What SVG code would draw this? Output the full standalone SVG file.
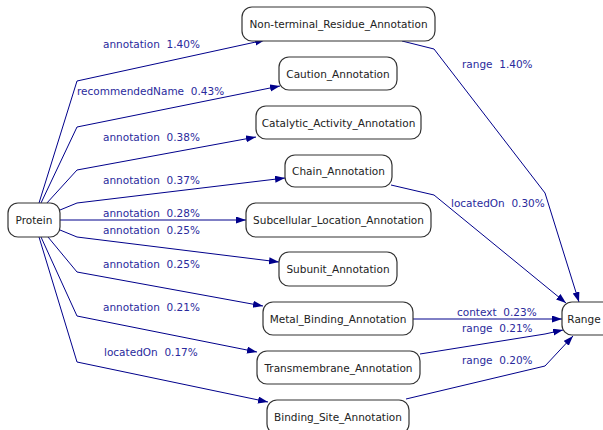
<svg xmlns="http://www.w3.org/2000/svg" width="603" height="430" viewBox="0 0 603 430">
<style>
.node rect{fill:#fff;stroke:#333;stroke-width:1.2}
.node text{font-family:"DejaVu Sans",sans-serif;font-size:10.5px;fill:#222;text-anchor:middle;dominant-baseline:central}
.edge{fill:none;stroke:#00008b;stroke-width:1;marker-end:url(#arr)}
.lbl{font-family:"DejaVu Sans",sans-serif;font-size:10.5px;fill:#2a2a9c;white-space:pre}
</style>
<defs>
<marker id="arr" markerUnits="userSpaceOnUse" markerWidth="11" markerHeight="8" refX="10" refY="3.5" orient="auto">
<path d="M0,0 L10,3.5 L0,7 z" fill="#00008b"/>
</marker>
</defs>
<rect width="603" height="430" fill="#fff"/>
<g id="connectors">
<path class="edge" d="M39,203 L77,81 L265,40"/>
<path class="edge" d="M41,203 L77,127 L280,86"/>
<path class="edge" d="M46,204 L77,170 L256,137"/>
<path class="edge" d="M60,210 L77,203 L285,178"/>
<path class="edge" d="M60,220 L246,220"/>
<path class="edge" d="M60,230 L77,237 L279,262"/>
<path class="edge" d="M48,237 L77,272 L263,306"/>
<path class="edge" d="M41,237 L77,316 L257,352"/>
<path class="edge" d="M39,237 L77,362 L268,402"/>
<path class="edge" d="M402,41 L434,49 L545,193 L579,302"/>
<path class="edge" d="M391,185 L434,195 L566,303"/>
<path class="edge" d="M413,319 L562,319"/>
<path class="edge" d="M420,354 L545,334 L563,330"/>
<path class="edge" d="M406,399 L545,366 L573,336"/>
<text class="lbl" x="103" y="48">annotation  1.40%</text>
<text class="lbl" x="77" y="95">recommendedName  0.43%</text>
<text class="lbl" x="103" y="141">annotation  0.38%</text>
<text class="lbl" x="103" y="184">annotation  0.37%</text>
<text class="lbl" x="103" y="217">annotation  0.28%</text>
<text class="lbl" x="103" y="234">annotation  0.25%</text>
<text class="lbl" x="103" y="268">annotation  0.25%</text>
<text class="lbl" x="103" y="311">annotation  0.21%</text>
<text class="lbl" x="104" y="356">locatedOn  0.17%</text>
<text class="lbl" x="462" y="68">range  1.40%</text>
<text class="lbl" x="451" y="207">locatedOn  0.30%</text>
<text class="lbl" x="457" y="316">context  0.23%</text>
<text class="lbl" x="462" y="332">range  0.21%</text>
<text class="lbl" x="462" y="364">range  0.20%</text>
</g>
<g id="protein" class="node"><rect x="8" y="203" width="52" height="34" rx="10"/><text x="34" y="220">Protein</text></g>
<g id="non_terminal" class="node"><rect x="242" y="7" width="193" height="34" rx="10"/><text x="338.5" y="24">Non-terminal_Residue_Annotation</text></g>
<g id="caution" class="node"><rect x="279" y="57" width="118" height="33" rx="10"/><text x="338" y="73.5">Caution_Annotation</text></g>
<g id="catalytic" class="node"><rect x="256" y="106" width="165" height="33" rx="10"/><text x="338.5" y="122.5">Catalytic_Activity_Annotation</text></g>
<g id="chain" class="node"><rect x="285" y="155" width="107" height="32" rx="10"/><text x="338.5" y="171">Chain_Annotation</text></g>
<g id="subcellular" class="node"><rect x="246" y="203" width="185" height="34" rx="10"/><text x="338.5" y="220">Subcellular_Location_Annotation</text></g>
<g id="subunit" class="node"><rect x="279" y="252" width="118" height="34" rx="10"/><text x="338" y="269">Subunit_Annotation</text></g>
<g id="metal_binding" class="node"><rect x="263" y="302" width="150" height="33" rx="10"/><text x="338" y="318.5">Metal_Binding_Annotation</text></g>
<g id="transmembrane" class="node"><rect x="257" y="351" width="163" height="33" rx="10"/><text x="338.5" y="367.5">Transmembrane_Annotation</text></g>
<g id="binding_site" class="node"><rect x="267" y="400" width="142" height="34" rx="10"/><text x="338" y="417">Binding_Site_Annotation</text></g>
<g id="range" class="node"><rect x="562" y="302" width="60" height="33" rx="10"/><text x="584" y="318.5">Range</text></g>
</svg>
